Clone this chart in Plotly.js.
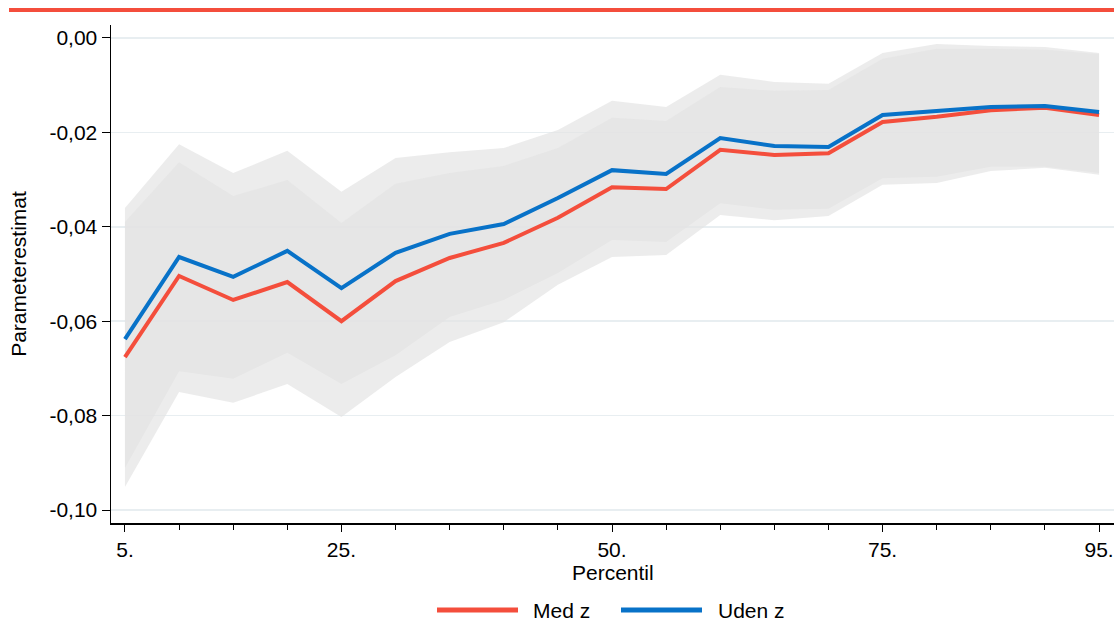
<!DOCTYPE html>
<html>
<head>
<meta charset="utf-8">
<script src="https://cdn.plot.ly/plotly-3.0.1.min.js"></script>
<style>html,body{margin:0;padding:0;background:#fff;}#chart{width:1117px;height:621px;}</style>
</head>
<body>
<div id="chart"></div>
<script>
const percentiles = [5,10,15,20,25,30,35,40,45,50,55,60,65,70,75,80,85,90,95];

const medZ = [-0.0676,-0.0504,-0.0555,-0.0517,-0.0600,-0.0515,-0.0466,-0.0434,-0.0381,-0.0316,-0.0320,-0.0237,-0.0248,-0.0244,-0.0178,-0.0167,-0.0153,-0.0148,-0.0163];
const medZUpper = [-0.0390,-0.0263,-0.0335,-0.0301,-0.0392,-0.0309,-0.0286,-0.0271,-0.0233,-0.0169,-0.0176,-0.0104,-0.0112,-0.0110,-0.0044,-0.0023,-0.0023,-0.0025,-0.0034];
const medZLower = [-0.0951,-0.0750,-0.0773,-0.0733,-0.0803,-0.0718,-0.0644,-0.0602,-0.0523,-0.0464,-0.0460,-0.0375,-0.0386,-0.0377,-0.0311,-0.0307,-0.0282,-0.0275,-0.0290];

const udenZ = [-0.0638,-0.0464,-0.0506,-0.0451,-0.0530,-0.0455,-0.0415,-0.0394,-0.0339,-0.0280,-0.0288,-0.0212,-0.0229,-0.0231,-0.0163,-0.0155,-0.0146,-0.0144,-0.0157];
const udenZUpper = [-0.0360,-0.0225,-0.0286,-0.0239,-0.0326,-0.0254,-0.0242,-0.0233,-0.0195,-0.0133,-0.0146,-0.0078,-0.0093,-0.0097,-0.0032,-0.0013,-0.0017,-0.0019,-0.0032];
const udenZLower = [-0.0911,-0.0706,-0.0722,-0.0667,-0.0733,-0.0672,-0.0591,-0.0555,-0.0498,-0.0428,-0.0432,-0.0350,-0.0364,-0.0362,-0.0297,-0.0294,-0.0273,-0.0273,-0.0286];

const xTickVals = [5,25,50,75,95];
const xTickText = ['5.','25.','50.','75.','95.'];
const yTickVals = [0,-0.02,-0.04,-0.06,-0.08,-0.10];
const yTickText = ['0,00','-0,02','-0,04','-0,06','-0,08','-0,10'];

const seriesNames = ['Med z','Uden z'];
const xTitle = 'Percentil';
const yTitle = 'Parameterestimat';
const RED = '#f44e3c';
const BLUE = '#0872c8';
const BAND = 'rgba(227,227,227,0.68)';

const traces = [
  {x: percentiles, y: udenZUpper, type:'scatter', mode:'lines', line:{width:0,color:BAND}, showlegend:false, hoverinfo:'skip'},
  {x: percentiles, y: udenZLower, type:'scatter', mode:'lines', line:{width:0,color:BAND}, fill:'tonexty', fillcolor:BAND, showlegend:false, hoverinfo:'skip'},
  {x: percentiles, y: medZUpper, type:'scatter', mode:'lines', line:{width:0,color:BAND}, showlegend:false, hoverinfo:'skip'},
  {x: percentiles, y: medZLower, type:'scatter', mode:'lines', line:{width:0,color:BAND}, fill:'tonexty', fillcolor:BAND, showlegend:false, hoverinfo:'skip'},
  {x: percentiles, y: medZ, type:'scatter', mode:'lines', name: seriesNames[0], line:{width:4,color:RED}, showlegend:false},
  {x: percentiles, y: udenZ, type:'scatter', mode:'lines', name: seriesNames[1], line:{width:4,color:BLUE}, showlegend:false}
];

const font = {family:'"Liberation Sans", Arial, sans-serif', size:21, color:'#000'};

// legend drawn as paper-space decorations (long line samples as in the reference)
const PH = 498, PW = 1003, ML = 111, MB_TOP = 523;
const px2x = p => (p - ML) / PW;
const py2y = p => (MB_TOP - p) / PH;
const legY = py2y(610);
const legendItems = [
  {name: seriesNames[0], color: RED, x0: 437, x1: 518, tx: 531},
  {name: seriesNames[1], color: BLUE, x0: 621, x1: 702, tx: 716}
];

const shapes = [
  {type:'line', xref:'paper', yref:'paper', x0:px2x(9), x1:1, y0:py2y(10), y1:py2y(10), line:{color:RED, width:4}}
];
const annotations = [
  {xref:'paper', yref:'paper', x:0.5, y:py2y(572), xanchor:'center', yanchor:'middle', text:xTitle, showarrow:false, font:font}
];
legendItems.forEach(it => {
  shapes.push({type:'line', xref:'paper', yref:'paper', x0:px2x(it.x0), x1:px2x(it.x1), y0:legY, y1:legY, line:{color:it.color, width:5}});
  annotations.push({xref:'paper', yref:'paper', x:px2x(it.tx), y:legY, xanchor:'left', yanchor:'middle', text:it.name, showarrow:false, font:font});
});

const layout = {
  width:1117, height:621,
  margin:{l:111, r:3, t:25, b:98},
  paper_bgcolor:'#fff', plot_bgcolor:'#fff',
  font: font,
  showlegend:false,
  xaxis:{
    range:[3.71, 96.38],
    tickmode:'array', tickvals:xTickVals, ticktext:xTickText,
    ticks:'outside', ticklen:7, tickwidth:1, tickcolor:'#000',
    minor:{tickmode:'array', tickvals:percentiles, ticks:'outside', ticklen:5, tickwidth:1, tickcolor:'#000', showgrid:false},
    showgrid:false, zeroline:false,
    showline:true, linecolor:'#000', linewidth:1.5,
    tickfont:font
  },
  yaxis:{
    range:[-0.10275, 0.00275],
    tickmode:'array', tickvals:yTickVals, ticktext:yTickText,
    ticks:'outside', ticklen:8, tickwidth:1, tickcolor:'#000',
    showgrid:true, gridcolor:'#e8eef1', gridwidth:1.5,
    zeroline:false,
    showline:true, linecolor:'#000', linewidth:1.5,
    tickfont:font,
    title:{text:yTitle, font:font, standoff:17}
  },
  shapes: shapes,
  annotations: annotations
};

Plotly.newPlot('chart', traces, layout, {displayModeBar:false, staticPlot:true});
</script>
</body>
</html>
